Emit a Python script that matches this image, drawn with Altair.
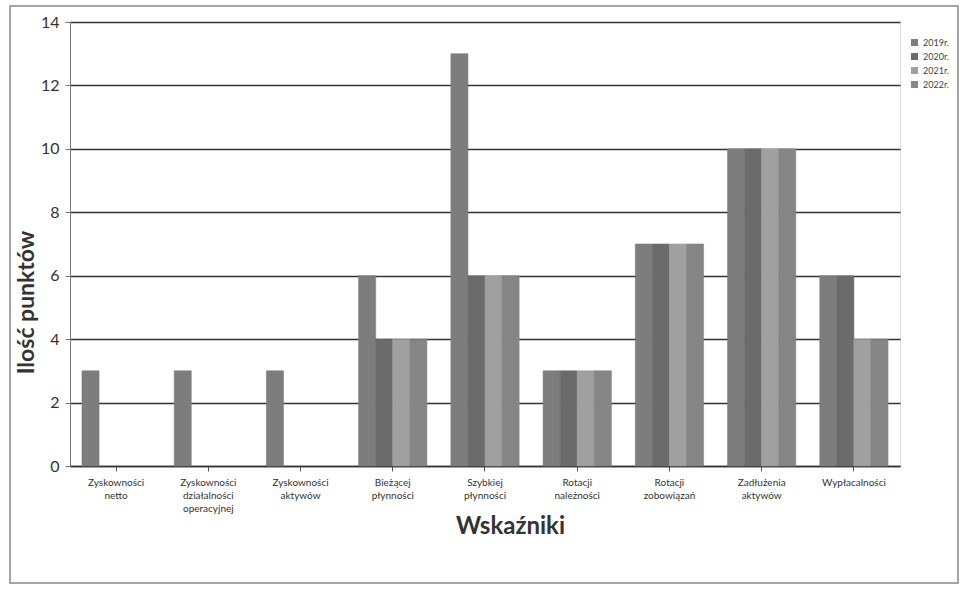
import altair as alt
import pandas as pd

categories = [
    "Zyskowności|netto",
    "Zyskowności|działalności|operacyjnej",
    "Zyskowności|aktywów",
    "Bieżącej|płynności",
    "Szybkiej|płynności",
    "Rotacji|należności",
    "Rotacji|zobowiązań",
    "Zadłużenia|aktywów",
    "Wypłacalności",
]
years = ["2019r.", "2020r.", "2021r.", "2022r."]
v2019 = [3, 3, 3, 6, 13, 3, 7, 10, 6]
v2020 = [0, 0, 0, 4, 6, 3, 7, 10, 6]
v2021 = [0, 0, 0, 4, 6, 3, 7, 10, 4]
v2022 = [0, 0, 0, 4, 6, 3, 7, 10, 4]
colors = ["#7d7d7d", "#6b6b6b", "#a0a0a0", "#858585"]

rows = []
for yr, vals in zip(years, [v2019, v2020, v2021, v2022]):
    for c, v in zip(categories, vals):
        rows.append({"Wskaźnik": c, "Rok": yr, "Punkty": v})
df = pd.DataFrame(rows)

FONT = "Lato"

bars = alt.Chart(df).mark_bar(strokeWidth=0.6).encode(
    x=alt.X("Wskaźnik:N", sort=categories,
            scale=alt.Scale(domain=categories, paddingInner=0.26, paddingOuter=0.13),
            axis=alt.Axis(title="Wskaźniki", labelAngle=0,
                          labelExpr="split(datum.label, '|')",
                          labelFontSize=10, labelColor="#333",
                          labelFont=FONT, labelPadding=6,
                          labelLineHeight=13,
                          ticks=True, tickColor="#555", domainColor="#333",
                          domainWidth=1.5,
                          titleFont=FONT, titleFontSize=24, titleFontWeight="bold",
                          titleColor="#333", titleY=48, titleX=440)),
    xOffset=alt.XOffset("Rok:N", sort=years,
                        scale=alt.Scale(domain=years, paddingInner=0, paddingOuter=0)),
    y=alt.Y("Punkty:Q", scale=alt.Scale(domain=[0, 14]),
            axis=alt.Axis(title="Ilość punktów", values=list(range(0, 15, 2)),
                          labelFontSize=16, labelColor="#333", labelFont=FONT,
                          labelPadding=6, gridColor="#333", gridWidth=1.3,
                          domainColor="#777", tickColor="#777",
                          titleFont=FONT, titleFontSize=23, titleFontWeight="bold",
                          titleColor="#333", titleX=-32, titleY=280)),
    color=alt.Color("Rok:N", sort=years,
                    scale=alt.Scale(domain=years, range=colors),
                    legend=alt.Legend(title=None, orient="none", legendX=840,
                                      legendY=16, symbolType="square",
                                      symbolSize=30, labelFontSize=9,
                                      labelFont=FONT, labelColor="#444",
                                      rowPadding=1)),
    stroke=alt.Stroke("Rok:N", sort=years,
                      scale=alt.Scale(domain=years, range=colors),
                      legend=None),
).transform_filter("datum.Punkty > 0")

frame = alt.Chart(pd.DataFrame({"k": [0]})).mark_rect(
    fill=None, stroke="#888", strokeWidth=1.5
).encode(x=alt.value(-60), x2=alt.value(888), y=alt.value(-16), y2=alt.value(561))

chart = alt.layer(frame, bars).properties(
    width=830, height=444,
    autosize=alt.AutoSizeParams(type="none"),
    padding={"left": 70, "top": 22, "right": 63, "bottom": 126},
).configure_view(stroke=None).configure(background="white")

chart.save("out.html", embed_options={"renderer": "svg", "actions": False})
